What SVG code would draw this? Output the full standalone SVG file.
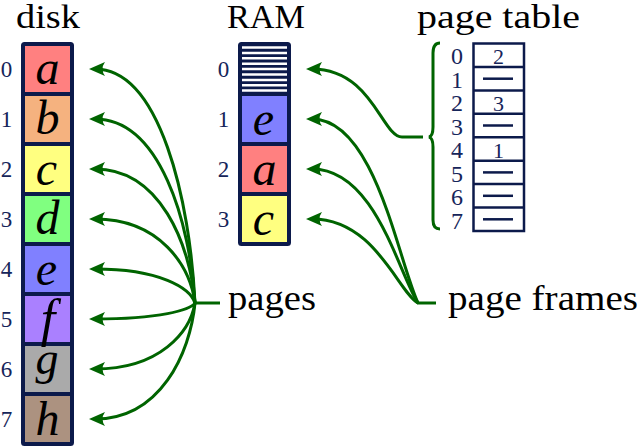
<svg xmlns="http://www.w3.org/2000/svg" width="640" height="447" viewBox="0 0 640 447">
<style>
text{font-family:'Liberation Serif','DejaVu Serif',serif}
.title{font-size:33px;fill:#000}
.lbl{font-size:36px;fill:#000}
.idx{font-size:23px;fill:#16255a;text-anchor:middle}
.pidx{font-size:24px;fill:#16255a;text-anchor:middle}
.ent{font-size:22px;fill:#16255a;text-anchor:middle}
.let{font-size:48px;font-style:italic;fill:#000;text-anchor:middle}
.box{fill:none;stroke:#0c1a4b;stroke-width:4;stroke-linejoin:round}
.div{stroke:#0c1a4b;stroke-width:4}
.tbox{fill:none;stroke:#0c1a4b;stroke-width:2.5}
.tdiv{stroke:#0c1a4b;stroke-width:2.5}
.dash{stroke:#0c1a4b;stroke-width:2.5}
.con{fill:none;stroke:#006400;stroke-width:3}
.arr{fill:none;stroke:#006400;stroke-width:3;marker-start:url(#ah)}
.stripe{stroke:#fff;stroke-width:2.5}
</style>
<defs>
<marker id="ah" markerUnits="userSpaceOnUse" markerWidth="24" markerHeight="20" viewBox="-12 -10 24 20" refX="0" refY="0" orient="auto-start-reverse" overflow="visible">
<path d="M6,0 L-10,-7 Q-5,0 -10,7 Z" fill="#006400"/>
</marker>
</defs>

<text class="title" x="16" y="28" textLength="64" lengthAdjust="spacingAndGlyphs">disk</text>
<text class="title" x="227" y="28" textLength="78" lengthAdjust="spacingAndGlyphs">RAM</text>
<text class="title" x="417" y="28" textLength="163" lengthAdjust="spacingAndGlyphs">page table</text>

<g id="disk">
<rect x="23" y="44" width="49" height="50" fill="#ff8080"/>
<rect x="23" y="94" width="49" height="50" fill="#f5b27f"/>
<rect x="23" y="144" width="49" height="50" fill="#ffff80"/>
<rect x="23" y="194" width="49" height="50" fill="#80ff80"/>
<rect x="23" y="244" width="49" height="50" fill="#8080ff"/>
<rect x="23" y="294" width="49" height="50" fill="#aa80ff"/>
<rect x="23" y="344" width="49" height="50" fill="#aaaaaa"/>
<rect x="23" y="394" width="49" height="50" fill="#ac9280"/>
<line class="div" x1="23" y1="94" x2="72" y2="94"/>
<line class="div" x1="23" y1="144" x2="72" y2="144"/>
<line class="div" x1="23" y1="194" x2="72" y2="194"/>
<line class="div" x1="23" y1="244" x2="72" y2="244"/>
<line class="div" x1="23" y1="294" x2="72" y2="294"/>
<line class="div" x1="23" y1="344" x2="72" y2="344"/>
<line class="div" x1="23" y1="394" x2="72" y2="394"/>
<text class="let" x="47.5" y="84">a</text>
<text class="let" x="47.5" y="134">b</text>
<text class="let" x="46.5" y="185">c</text>
<text class="let" x="47.5" y="234">d</text>
<text class="let" x="46.5" y="285">e</text>
<text class="let" x="48" y="336" style="font-size:52px">f</text>
<text class="let" x="47" y="374" style="font-size:46px">g</text>
<text class="let" x="47.5" y="435">h</text>
<rect class="box" x="23" y="44" width="49" height="400" rx="1.5"/>
<text class="idx" x="6.5" y="77">0</text>
<text class="idx" x="6.5" y="127">1</text>
<text class="idx" x="6.5" y="177">2</text>
<text class="idx" x="6.5" y="227">3</text>
<text class="idx" x="6.5" y="277">4</text>
<text class="idx" x="6.5" y="327">5</text>
<text class="idx" x="6.5" y="377">6</text>
<text class="idx" x="6.5" y="427">7</text>
</g>

<g id="ram">
<rect x="240" y="44" width="49" height="50" fill="#0c1a4b"/>
<line class="stripe" x1="240" y1="47.5" x2="289" y2="47.5"/>
<line class="stripe" x1="240" y1="52.9" x2="289" y2="52.9"/>
<line class="stripe" x1="240" y1="58.3" x2="289" y2="58.3"/>
<line class="stripe" x1="240" y1="63.7" x2="289" y2="63.7"/>
<line class="stripe" x1="240" y1="69.1" x2="289" y2="69.1"/>
<line class="stripe" x1="240" y1="74.5" x2="289" y2="74.5"/>
<line class="stripe" x1="240" y1="79.9" x2="289" y2="79.9"/>
<line class="stripe" x1="240" y1="85.3" x2="289" y2="85.3"/>
<line class="stripe" x1="240" y1="90.4" x2="289" y2="90.4"/>
<rect x="240" y="94" width="49" height="50" fill="#8080ff"/>
<rect x="240" y="144" width="49" height="50" fill="#ff8080"/>
<rect x="240" y="194" width="49" height="50" fill="#ffff80"/>
<line class="div" x1="240" y1="94" x2="289" y2="94"/>
<line class="div" x1="240" y1="144" x2="289" y2="144"/>
<line class="div" x1="240" y1="194" x2="289" y2="194"/>
<rect class="box" x="240" y="44" width="49" height="200" rx="1.5"/>
<text class="let" x="263.5" y="135">e</text>
<text class="let" x="264.5" y="185">a</text>
<text class="let" x="263.5" y="235">c</text>
<text class="idx" x="223.5" y="77">0</text>
<text class="idx" x="223.5" y="127">1</text>
<text class="idx" x="223.5" y="177">2</text>
<text class="idx" x="223.5" y="227">3</text>
</g>

<g id="pagetable">
<rect class="tbox" x="473.5" y="43.5" width="50.5" height="187.5"/>
<line class="tdiv" x1="473.5" y1="66.9" x2="524" y2="66.9"/>
<line class="tdiv" x1="473.5" y1="90.4" x2="524" y2="90.4"/>
<line class="tdiv" x1="473.5" y1="113.8" x2="524" y2="113.8"/>
<line class="tdiv" x1="473.5" y1="137.3" x2="524" y2="137.3"/>
<line class="tdiv" x1="473.5" y1="160.7" x2="524" y2="160.7"/>
<line class="tdiv" x1="473.5" y1="184.1" x2="524" y2="184.1"/>
<line class="tdiv" x1="473.5" y1="207.6" x2="524" y2="207.6"/>
<text class="ent" x="498.5" y="64">2</text>
<line class="dash" x1="483" y1="78.7" x2="513" y2="78.7"/>
<text class="ent" x="498.5" y="110.5">3</text>
<line class="dash" x1="483" y1="125.5" x2="513" y2="125.5"/>
<text class="ent" x="498.5" y="157.5">1</text>
<line class="dash" x1="483" y1="172.4" x2="513" y2="172.4"/>
<line class="dash" x1="483" y1="195.8" x2="513" y2="195.8"/>
<line class="dash" x1="483" y1="219.3" x2="513" y2="219.3"/>
<text class="pidx" x="457" y="64">0</text>
<text class="pidx" x="457" y="87.5">1</text>
<text class="pidx" x="457" y="111">2</text>
<text class="pidx" x="457" y="134.5">3</text>
<text class="pidx" x="457" y="158">4</text>
<text class="pidx" x="457" y="181.5">5</text>
<text class="pidx" x="457" y="205">6</text>
<text class="pidx" x="457" y="228.5">7</text>
<path class="con" stroke-width="2.5" d="M440,43 Q433,43 433,53 L433,127 Q433,136 429,137 Q433,138 433,147 L433,220 Q433,229 440,229"/>
</g>

<g id="labels">
<text class="lbl" x="228" y="310" textLength="88" lengthAdjust="spacingAndGlyphs">pages</text>
<text class="lbl" x="448" y="310" textLength="190" lengthAdjust="spacingAndGlyphs">page frames</text>
</g>

<g id="connectors">
<path class="arr" d="M95,69 C160,69 190,200 195,303"/>
<path class="arr" d="M95,119 C160,119 190,222 195,303"/>
<path class="arr" d="M95,169 C160,169 190,244 195,303"/>
<path class="arr" d="M95,219 C160,219 190,266 195,303"/>
<path class="arr" d="M95,269 C160,269 190,288 195,303"/>
<path class="arr" d="M95,319 C160,319 190,310 195,303"/>
<path class="arr" d="M95,369 C160,369 190,332 195,303"/>
<path class="arr" d="M95,419 C160,419 190,354 195,303"/>
<line class="con" x1="194" y1="303" x2="220" y2="303"/>
<path class="arr" d="M312,119 C375,119 398,260 418,303"/>
<path class="arr" d="M312,169 C375,169 398,272 418,303"/>
<path class="arr" d="M312,219 C375,219 398,292 418,303"/>
<line class="con" x1="417" y1="303" x2="436" y2="303"/>
<path class="arr" d="M312,69 C372,69 382,137 402,137 L423,137"/>
</g>
</svg>
